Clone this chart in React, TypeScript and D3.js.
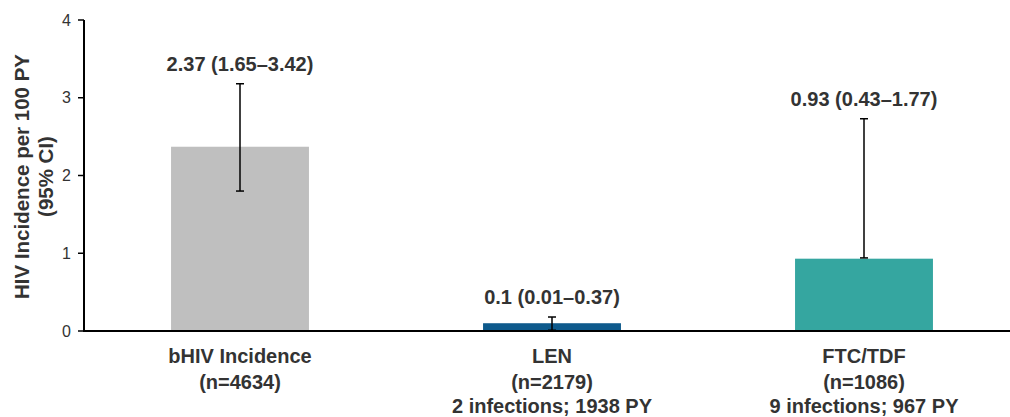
import React from "react";
import * as d3 from "d3";

const categories = ["bHIV Incidence", "LEN", "FTC/TDF"];
const subLabels = [["(n=4634)"], ["(n=2179)", "2 infections; 1938 PY"], ["(n=1086)", "9 infections; 967 PY"]];
const values = [2.37, 0.1, 0.93];
const errLow = [1.8, 0.01, 0.94];
const errHigh = [3.18, 0.18, 2.73];
const valueLabels = ["2.37 (1.65–3.42)", "0.1 (0.01–0.37)", "0.93 (0.43–1.77)"];
const colors = ["#BFBFBF", "#0E5A8C", "#35A6A0"];
const yTicks = [0, 1, 2, 3, 4];

const W = 1010;
const H = 417;
const FONT = "'Liberation Sans', Arial, sans-serif";
const TEXT = "#333333";

export default function App() {
  const y = d3.scaleLinear().domain([0, 4]).range([331, 20]);
  const x = d3.scalePoint<string>().domain(categories).range([84, 1020]).padding(0.5);
  const bw = x.step() * 0.442;
  const capW = 8;

  return (
    <svg width={W} height={H} style={{ position: "absolute", left: 0, top: 0, background: "#fff" }} fontFamily={FONT}>
      {/* bars */}
      {categories.map((c, i) => (
        <rect key={c} x={(x(c) as number) - bw / 2} y={y(values[i])} width={bw} height={y(0) - y(values[i])} fill={colors[i]} />
      ))}
      {/* error bars */}
      {categories.map((c, i) => {
        const cx = x(c) as number;
        return (
          <g key={"e" + c} stroke="#000" strokeWidth={1.5}>
            <line x1={cx} x2={cx} y1={y(errLow[i])} y2={y(errHigh[i])} />
            <line x1={cx - capW / 2} x2={cx + capW / 2} y1={y(errHigh[i])} y2={y(errHigh[i])} />
            <line x1={cx - capW / 2} x2={cx + capW / 2} y1={y(errLow[i])} y2={y(errLow[i])} />
          </g>
        );
      })}
      {/* value labels */}
      {categories.map((c, i) => (
        <text key={"v" + c} x={x(c) as number} y={y(errHigh[i]) - 13} textAnchor="middle" fontSize={20} fontWeight="bold" fill={TEXT}>
          {valueLabels[i]}
        </text>
      ))}
      {/* axes */}
      <line x1={84} x2={W} y1={y(0)} y2={y(0)} stroke="#000" strokeWidth={2} />
      <line x1={84} x2={84} y1={y(4)} y2={y(0) + 1} stroke="#000" strokeWidth={2} />
      {yTicks.map((t) => (
        <g key={"t" + t}>
          <line x1={78} x2={84} y1={y(t)} y2={y(t)} stroke="#000" strokeWidth={1.5} />
          <text x={71} y={y(t)} dy="0.35em" textAnchor="end" fontSize={16} fill={TEXT}>
            {t}
          </text>
        </g>
      ))}
      {/* y title */}
      <g transform={`translate(0, ${(y(0) + y(4)) / 2 + 1}) rotate(-90)`}>
        <text x={0} y={29} textAnchor="middle" fontSize={20.5} fontWeight="bold" fill={TEXT}>
          HIV Incidence per 100 PY
        </text>
        <text x={0} y={53} textAnchor="middle" fontSize={20.5} fontWeight="bold" fill={TEXT}>
          (95% CI)
        </text>
      </g>
      {/* category labels */}
      {categories.map((c, i) => (
        <g key={"c" + c}>
          <text x={x(c) as number} y={363} textAnchor="middle" fontSize={20} fontWeight="bold" fill={TEXT}>
            {c}
          </text>
          {subLabels[i].map((s, j) => (
            <text key={s} x={x(c) as number} y={389 + j * 24} textAnchor="middle" fontSize={20} fontWeight="bold" fill={TEXT}>
              {s}
            </text>
          ))}
        </g>
      ))}
    </svg>
  );
}
